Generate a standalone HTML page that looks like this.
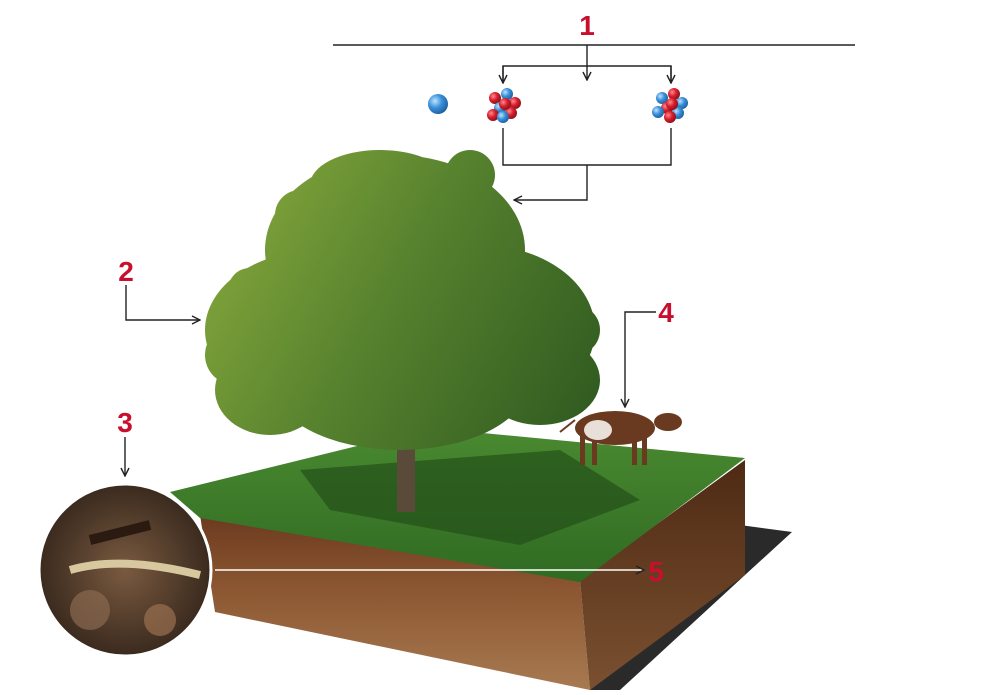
<!DOCTYPE html>
<html><head><meta charset="utf-8"><style>
html,body{margin:0;padding:0;background:#fff;}
svg{display:block}
text{font-family:"Liberation Sans",Arial,sans-serif;font-weight:bold;fill:#c8102e;font-size:28px}
</style></head><body>
<svg width="984" height="695" viewBox="0 0 984 695" xmlns="http://www.w3.org/2000/svg">
<defs>
<marker id="a" markerWidth="10" markerHeight="10" refX="9" refY="5" orient="auto" markerUnits="userSpaceOnUse"><path d="M1,1 L9,5 L1,9" fill="none" stroke="#222" stroke-width="1.4"/></marker>
<linearGradient id="tree" gradientUnits="userSpaceOnUse" x1="210" y1="200" x2="600" y2="420"><stop offset="0" stop-color="#86a83c"/><stop offset="0.45" stop-color="#57822e"/><stop offset="1" stop-color="#2f5a20"/></linearGradient>
<linearGradient id="soil" x1="0" y1="0" x2="0" y2="1"><stop offset="0" stop-color="#6b3a1f"/><stop offset="0.4" stop-color="#8a5530"/><stop offset="1" stop-color="#a87a52"/></linearGradient>
<linearGradient id="soil2" x1="0" y1="0" x2="0" y2="1"><stop offset="0" stop-color="#4e2a14"/><stop offset="1" stop-color="#7a5030"/></linearGradient>
<linearGradient id="grass" x1="0" y1="0" x2="0" y2="1"><stop offset="0" stop-color="#4a8a30"/><stop offset="1" stop-color="#2f6a22"/></linearGradient>
<radialGradient id="ball" cx="0.35" cy="0.35" r="0.7"><stop offset="0" stop-color="#bfe4ff"/><stop offset="0.5" stop-color="#3a8fd8"/><stop offset="1" stop-color="#1c5fa0"/></radialGradient>
<radialGradient id="red" cx="0.35" cy="0.35" r="0.7"><stop offset="0" stop-color="#ff8a8a"/><stop offset="0.5" stop-color="#d81e2e"/><stop offset="1" stop-color="#8a0f18"/></radialGradient>
<radialGradient id="circ" cx="0.5" cy="0.5" r="0.5"><stop offset="0" stop-color="#7a5a40"/><stop offset="1" stop-color="#3a2a1e"/></radialGradient>
</defs>

<polygon points="740,525 792,532 745,575 620,690 590,690 740,560" fill="#2a2a2a"/>
<polygon points="200,515 580,580 590,690 215,612" fill="url(#soil)"/>
<polygon points="580,580 745,460 745,575 590,690" fill="url(#soil2)"/>
<polygon points="170,492 430,428 745,458 580,582 200,518" fill="url(#grass)"/>
<polygon points="300,470 560,450 640,500 520,545 330,510" fill="#24501a" opacity="0.7"/>

<rect x="397" y="420" width="18" height="92" fill="#5a4a3a"/>
<g fill="url(#tree)">
<ellipse cx="395" cy="250" rx="130" ry="95"/>
<ellipse cx="320" cy="330" rx="115" ry="80"/>
<ellipse cx="480" cy="330" rx="115" ry="85"/>
<ellipse cx="400" cy="380" rx="130" ry="70"/>
<ellipse cx="270" cy="390" rx="55" ry="45"/>
<ellipse cx="540" cy="380" rx="60" ry="45"/>
<ellipse cx="380" cy="185" rx="70" ry="35"/>
<circle cx="235" cy="355" r="30"/>
<circle cx="300" cy="215" r="25"/>
<circle cx="250" cy="290" r="22"/>
<circle cx="575" cy="330" r="25"/>
<circle cx="470" cy="175" r="25"/>
</g>

<g fill="#6a3a20">
<ellipse cx="615" cy="428" rx="40" ry="17"/>
<rect x="580" y="435" width="5" height="30"/><rect x="592" y="435" width="5" height="30"/>
<rect x="632" y="435" width="5" height="30"/><rect x="642" y="435" width="5" height="30"/>
<ellipse cx="668" cy="422" rx="14" ry="9"/>
</g>
<ellipse cx="598" cy="430" rx="14" ry="10" fill="#e8e0d8"/>
<path d="M575,420 Q565,428 560,432" stroke="#6a3a20" stroke-width="2" fill="none"/>

<circle cx="125" cy="570" r="86" fill="url(#circ)" stroke="#fff" stroke-width="3"/>
<circle cx="90" cy="610" r="20" fill="#8a6a50" opacity="0.7"/>
<circle cx="160" cy="620" r="16" fill="#9a7050" opacity="0.7"/>
<path d="M70,570 Q120,555 200,575" stroke="#d8c8a0" stroke-width="8" fill="none"/>
<path d="M90,540 L150,525" stroke="#2a1a10" stroke-width="10"/>

<g stroke="#222" stroke-width="1.4" fill="none">
<line x1="333" y1="45" x2="855" y2="45"/>
<line x1="587" y1="45" x2="587" y2="80" marker-end="url(#a)"/>
<polyline points="503,83 503,66 671,66 671,83" />
<line x1="503" y1="66" x2="503" y2="83" marker-end="url(#a)"/>
<line x1="671" y1="66" x2="671" y2="83" marker-end="url(#a)"/>
<polyline points="503,128 503,165 671,165 671,128"/>
<polyline points="587,165 587,200 514,200" marker-end="url(#a)"/>
<polyline points="126,285 126,320 200,320" marker-end="url(#a)"/>
<line x1="125" y1="437" x2="125" y2="476" marker-end="url(#a)"/>
<polyline points="656,312 625,312 625,407" marker-end="url(#a)"/>
</g>
<line x1="215" y1="570" x2="644" y2="570" stroke="#fff" stroke-width="1.6" marker-end="url(#a)"/>

<circle cx="438" cy="104" r="10" fill="url(#ball)"/>
<g>
<circle cx="495" cy="98" r="6" fill="url(#red)"/><circle cx="507" cy="94" r="6" fill="url(#ball)"/>
<circle cx="515" cy="103" r="6" fill="url(#red)"/><circle cx="500" cy="108" r="6" fill="url(#ball)"/>
<circle cx="511" cy="113" r="6" fill="url(#red)"/><circle cx="493" cy="115" r="6" fill="url(#red)"/>
<circle cx="505" cy="104" r="6" fill="url(#red)"/><circle cx="503" cy="117" r="6" fill="url(#ball)"/>
</g>
<g>
<circle cx="662" cy="98" r="6" fill="url(#ball)"/><circle cx="674" cy="94" r="6" fill="url(#red)"/>
<circle cx="682" cy="103" r="6" fill="url(#ball)"/><circle cx="667" cy="108" r="6" fill="url(#red)"/>
<circle cx="678" cy="113" r="6" fill="url(#ball)"/><circle cx="658" cy="112" r="6" fill="url(#ball)"/>
<circle cx="672" cy="104" r="6" fill="url(#red)"/><circle cx="670" cy="117" r="6" fill="url(#red)"/>
</g>

<text x="587" y="35" text-anchor="middle">1</text>
<text x="126" y="281" text-anchor="middle">2</text>
<text x="125" y="432" text-anchor="middle">3</text>
<text x="666" y="322" text-anchor="middle">4</text>
<text x="656" y="581" text-anchor="middle">5</text>
</svg>
</body></html>
